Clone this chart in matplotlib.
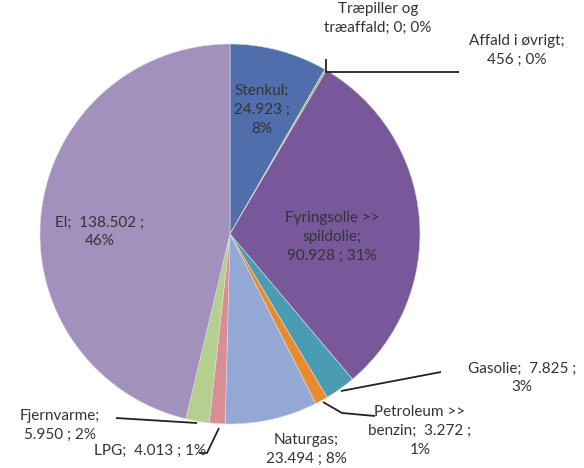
import matplotlib.pyplot as plt

plt.rcParams['font.family'] = ['Lato', 'DejaVu Sans']

# data (clockwise from 12 o'clock)
labels = ["Stenkul", "Træpiller og træaffald", "Affald i øvrigt", "Fyringsolie >> spildolie",
          "Gasolie", "Petroleum >> benzin", "Naturgas", "LPG", "Fjernvarme", "El"]
values = [24923, 0, 456, 90928, 7825, 3272, 23494, 4013, 5950, 138502]
colors = ["#4f6eab", "#8fb56a", "#8fb56a", "#78589a", "#4a9cb3", "#e98a2e",
          "#93a8d5", "#d98e93", "#b5d08e", "#a391bd"]

W, H = 584, 468
fig = plt.figure(figsize=(W / 100, H / 100), dpi=100)
ax = fig.add_axes([0, 0, 1, 1])

cx, cy, r = 230, H - 234, 190
ax.pie(values, colors=colors, startangle=90, counterclock=False,
       center=(cx, cy), radius=r, frame=True,
       wedgeprops=dict(edgecolor="#dddddd", linewidth=0.4))
ax.set_xlim(0, W)
ax.set_ylim(0, H)
ax.set_aspect("equal")
ax.axis("off")

tc = "#333333"
fs = 11


def txt(x, y, s, ha="center"):
    ax.text(x, H - y, s, ha=ha, va="center", fontsize=fs, color=tc, linespacing=1.45)


def line(xs, ys):
    ax.plot(xs, [H - y for y in ys], color="#222222", lw=1.3, solid_capstyle="butt")


txt(262, 110, "Stenkul;\n24.923 ;\n8%")
txt(332, 237, "Fyringsolie >>\nspildolie;\n90.928 ; 31%")
txt(100, 232, "El;  138.502 ;\n46%")
txt(378, 18, "Træpiller og\ntræaffald; 0; 0%")
txt(517, 50, "Affald i øvrigt;\n456 ; 0%")
txt(522, 378, "Gasolie;  7.825 ;\n3%")
txt(420, 431, "Petroleum >>\nbenzin;  3.272 ;\n1%")
txt(306, 449, "Naturgas;\n23.494 ; 8%")
txt(60, 425, "Fjernvarme;\n5.950 ; 2%")
txt(150, 451, "LPG;  4.013 ; 1%")

line([326, 326, 459], [59, 72, 72])
line([341, 441], [391, 372])
line([323, 342, 375], [402, 413, 416])
line([197, 116], [423, 418])
line([219, 207, 199], [428, 453, 453])

fig.savefig("out.png", dpi=100)
